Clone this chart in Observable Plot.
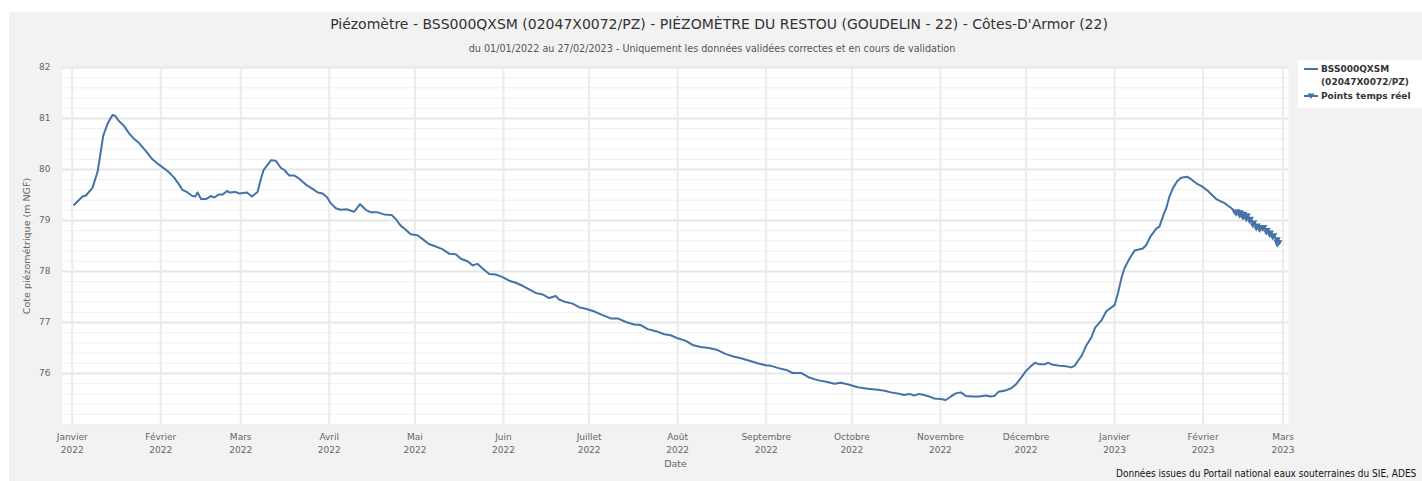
<!DOCTYPE html>
<html>
<head>
<meta charset="utf-8">
<script src="https://cdn.jsdelivr.net/npm/d3@7"></script>
<script src="https://cdn.jsdelivr.net/npm/@observablehq/plot@0.6"></script>
<style>
  html, body { margin: 0; padding: 0; background: #ffffff; }
  #wrap { position: relative; width: 1422px; height: 481px; overflow: hidden; }
  #panel { position: absolute; left: 9px; top: 12px; width: 1413px; height: 469px; background: #f2f2f2; }
  #chart { position: absolute; left: 0; top: 0; }
  .t { position: absolute; white-space: nowrap; }
  #title { top: 16px; left: 719px; transform: translateX(-50%); font: 14px "DejaVu Sans", sans-serif; color: #333; }
  #subtitle { top: 42px; left: 712px; transform: translateX(-50%); font: 10.7px "DejaVu Sans Condensed", "DejaVu Sans", sans-serif; font-stretch: condensed; color: #555; }
  #legend { position: absolute; left: 1298px; top: 60px; width: 124px; height: 48px; background: #fff; }
  .lg { position: absolute; font: bold 9px "DejaVu Sans", sans-serif; color: #333; white-space: nowrap; }
  #caption { top: 468px; left: 1116px; font: 10px/12px "DejaVu Sans Condensed", "DejaVu Sans", sans-serif; font-stretch: condensed; color: #111; }
</style>
</head>
<body>
<div id="wrap">
  <div id="panel"></div>
  <div id="chart"></div>
  <div class="t" id="title">Piézomètre - BSS000QXSM (02047X0072/PZ) - PIÉZOMÈTRE DU RESTOU (GOUDELIN - 22) - Côtes-D'Armor (22)</div>
  <div class="t" id="subtitle">du 01/01/2022 au 27/02/2023 - Uniquement les données validées correctes et en cours de validation</div>
  <div id="legend">
    <svg width="124" height="48" style="position:absolute;left:0;top:0">
      <line x1="6" x2="20" y1="9" y2="9" stroke="#4572a7" stroke-width="2"/>
      <line x1="6" x2="20" y1="36" y2="36" stroke="#4572a7" stroke-width="2"/>
      <path d="M9.5,33.5 L16.5,33.5 L13,39 Z" fill="#4572a7"/>
    </svg>
    <div class="lg" style="left:23px;top:4px">BSS000QXSM</div>
    <div class="lg" style="left:23px;top:17px">(02047X0072/PZ)</div>
    <div class="lg" style="left:23px;top:31px">Points temps réel</div>
  </div>
  <div class="t" id="caption">Données issues du Portail national eaux souterraines du SIE, ADES</div>
</div>
<script>
// Days counted from 2022-01-01 (UTC)
const mainDays = [0.7,3.6,4.8,7.1,8.9,10,10.9,12.4,14.1,15.1,16.2,18.2,20,21.7,23.2,25.8,28.1,30.5,33.4,35.7,37.5,38.6,40.4,42.1,43.1,43.9,45.1,46.8,48.6,49.8,51.3,52.7,54.2,55,57.1,58.5,61.2,62.9,64.9,66.1,67,68.4,69.6,71.3,73.1,74.3,76,77.8,79.5,81.9,84.2,86,87.7,89.3,90.5,92.3,94,96.1,98.7,100.8,102.8,104.6,106.9,109.2,111.8,113.3,115,116.8,118.5,120.9,122.6,124.9,127.3,129.6,132,134.3,136.1,138.4,140.2,141.9,143.7,146,148.3,150.7,153,155.3,157.7,160,162.3,164.7,167,169.3,170.5,172.8,175.2,177.5,180.4,182.6,185.1,188.6,191,193.9,196.8,199.1,201.5,204.4,207.3,209.6,212,214.9,217.2,220.1,223,226,228.9,231.8,234.2,237.1,240,242.9,244.7,247,250,252.3,255.2,258.1,261,264,266.9,269.2,272.1,275.1,278.6,282.1,284.5,286.7,289,291.3,293.1,294.8,296.6,298.3,300.1,301.8,304.2,305.9,307.7,309.4,311.2,312.9,315.3,317.6,320,321.5,322.9,324.3,326.4,328.8,330.5,332.3,334,335.8,337.2,338.7,340.4,341.8,343.4,345.7,348.1,349.8,351,352.2,353.5,355,356.8,358.2,360.4,362.1,365,366.2,367.4,368.5,370.3,372,374.9,376.1,377.6,379.6,380.7,382.3,383.1,384.2,385.4,386.9,388.3,390.4,391.8,393.6,395.3,397.7,400.6,403.5,405.9,407.6];
const mainLevels = [79.31,79.47,79.49,79.64,79.96,80.35,80.67,80.90,81.07,81.05,80.96,80.85,80.70,80.60,80.53,80.36,80.20,80.09,79.97,79.84,79.70,79.60,79.55,79.48,79.47,79.55,79.42,79.42,79.48,79.45,79.51,79.51,79.58,79.55,79.56,79.53,79.55,79.47,79.56,79.82,79.99,80.09,80.18,80.17,80.03,79.99,79.88,79.88,79.82,79.70,79.62,79.55,79.53,79.45,79.34,79.24,79.21,79.22,79.17,79.32,79.21,79.16,79.16,79.12,79.11,79.03,78.90,78.82,78.73,78.71,78.64,78.54,78.49,78.44,78.35,78.34,78.25,78.20,78.12,78.15,78.06,77.95,77.94,77.89,77.82,77.78,77.72,77.65,77.58,77.55,77.48,77.52,77.45,77.40,77.37,77.30,77.26,77.22,77.16,77.08,77.08,77.01,76.96,76.95,76.87,76.83,76.77,76.75,76.69,76.64,76.56,76.52,76.50,76.46,76.38,76.33,76.30,76.25,76.20,76.16,76.15,76.11,76.07,76.01,76.01,75.92,75.87,75.84,75.80,75.82,75.78,75.73,75.70,75.68,75.66,75.63,75.61,75.58,75.60,75.57,75.60,75.58,75.55,75.51,75.50,75.48,75.55,75.61,75.63,75.56,75.55,75.55,75.57,75.55,75.56,75.64,75.66,75.71,75.79,75.92,76.05,76.15,76.21,76.18,76.18,76.21,76.17,76.15,76.14,76.12,76.15,76.25,76.35,76.54,76.70,76.90,77.04,77.22,77.34,77.58,77.87,78.07,78.26,78.41,78.45,78.52,78.69,78.84,78.88,79.14,79.24,79.47,79.63,79.77,79.84,79.86,79.81,79.73,79.68,79.58,79.42,79.34,79.24,79.16];
const rtDays = [407.0,407.6,408.2,408.8,409.3,409.9,410.5,411.1,411.7,412.3,412.8,413.4,414.0,414.6,415.2,415.8,416.3,416.9,417.5,418.1,418.7,419.3,419.8,420.4,421.0,421.6,422.2,422.8,422.0];
const rtLevels = [79.17,79.14,79.19,79.10,79.17,79.06,79.14,79.03,79.11,78.99,79.04,78.91,78.97,78.85,78.91,78.82,78.88,78.84,78.88,78.77,78.82,78.72,78.77,78.67,78.72,78.59,78.64,78.58,78.53];

const monthStarts = ["2022-01-01","2022-02-01","2022-03-01","2022-04-01","2022-05-01","2022-06-01","2022-07-01","2022-08-01","2022-09-01","2022-10-01","2022-11-01","2022-12-01","2023-01-01","2023-02-01","2023-03-01"];
const monthNames = ["Janvier","Février","Mars","Avril","Mai","Juin","Juillet","Août","Septembre","Octobre","Novembre","Décembre","Janvier","Février","Mars"];
const yearNames = ["2022","2022","2022","2022","2022","2022","2022","2022","2022","2022","2022","2022","2023","2023","2023"];
const yTickValues = [76,77,78,79,80,81,82];

const base = Date.UTC(2022, 0, 1);
const toDate = d => new Date(base + d * 864e5);
const mainData = mainDays.map((d, i) => ({date: toDate(d), level: mainLevels[i]}));
const rtData = rtDays.map((d, i) => ({date: toDate(d), level: rtLevels[i]}));
const monthDates = monthStarts.map(s => new Date(s + "T00:00:00Z"));
const labelOf = new Map(monthDates.map((d, i) => [+d, monthNames[i] + "\n" + yearNames[i]]));
const minorY = d3.range(75, 82.001, 0.2).map(v => +v.toFixed(1));
const color = "#4572a7";

const chart = Plot.plot({
  width: 1422,
  height: 481,
  marginLeft: 62,
  marginRight: 134,
  marginTop: 67,
  marginBottom: 57,
  style: {background: "transparent", fontFamily: "DejaVu Sans, sans-serif", fontSize: "9px", overflow: "visible"},
  x: {type: "utc", domain: [toDate(-3.4), toDate(425.9)]},
  y: {domain: [75, 82]},
  marks: [
    Plot.frame({fill: "white", stroke: null}),
    Plot.ruleY(minorY, {stroke: "#efefef", strokeWidth: 1}),
    Plot.ruleY(yTickValues, {stroke: "#e6e6e6", strokeWidth: 2}),
    Plot.gridX(monthDates, {stroke: "#ebebeb", strokeWidth: 2, strokeOpacity: 1}),
    Plot.axisY(yTickValues, {tickSize: 0, tickPadding: 12, color: "#666", label: null, tickFormat: d => String(d)}),
    Plot.axisX(monthDates, {tickSize: 0, tickPadding: 7, color: "#666", label: null, lineHeight: 1.4, tickFormat: d => labelOf.get(+d)}),
    Plot.text(["Cote piézométrique (m NGF)"], {frameAnchor: "left", textAnchor: "middle", dx: -36, rotate: -90, fill: "#666", fontSize: 9.5}),
    Plot.text(["Date"], {frameAnchor: "bottom", dy: 42, fill: "#666", fontSize: 9.5}),
    Plot.line(mainData, {x: "date", y: "level", stroke: color, strokeWidth: 2}),
    Plot.line(rtData, {x: "date", y: "level", stroke: color, strokeWidth: 2}),
    Plot.dot(rtData, {x: "date", y: "level", symbol: "triangle", rotate: 180, r: 2.1, fill: color, stroke: null})
  ]
});
document.getElementById("chart").appendChild(chart);
</script>
</body>
</html>
